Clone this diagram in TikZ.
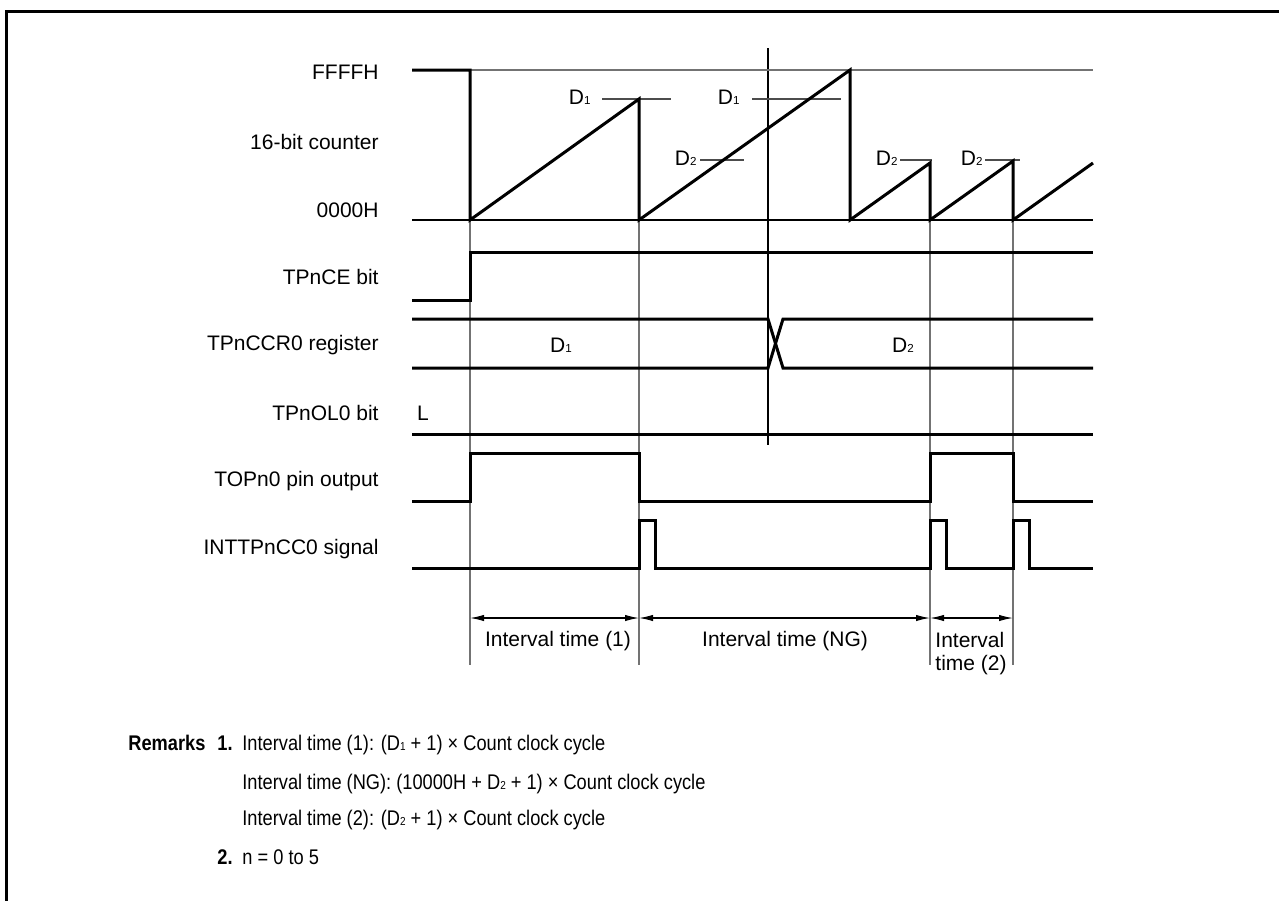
\documentclass[tikz,border=0pt]{standalone}
\usepackage{fontspec}
\setmainfont{Liberation Sans}
\newfontfamily\narrowsf[FakeStretch=0.86]{Liberation Sans}
\usepackage{tikz}
\usetikzlibrary{arrows.meta,positioning}
\newcommand{\Dlow}[1]{D{\fontsize{5.8}{6}\selectfont #1}}

\begin{document}
\begin{tikzpicture}[x=0.5pt, y=-0.5pt,
    sig/.style={line width=1.5pt, line join=miter},
    base/.style={line width=0.6pt},
    guide/.style={line width=0.6pt, draw=black!55},
    level/.style={line width=0.6pt, draw=black!70},
    lbl/.style={anchor=east, inner sep=0pt, font=\fontsize{10.5}{12}\selectfont},
    val/.style={inner sep=0pt, font=\fontsize{10.5}{12}\selectfont},
    span/.style={line width=0.6pt, {Latex[length=7pt,width=3.2pt]}-{Latex[length=7pt,width=3.2pt]}},
    remark/.style={anchor=base west, inner sep=0pt, font=\narrowsf\fontsize{10.6}{12}\selectfont}
]
    \useasboundingbox (0,0) rectangle (1279,901);
    % frame
    \draw[line width=1.5pt] (1279,11) -- (6,11) -- (6,901);

    % signal names
    \node[lbl] (lffff) at (379,72) {FFFFH};
    \node[lbl] (lcnt) at (379,142) {16-bit counter};
    \node[lbl] (lzero) at (379,210) {0000H};
    \node[lbl] (lce) at (379,277) {TPnCE bit};
    \node[lbl] (lccr) at (379,345) {TPnCCR0 register};
    \node[lbl] (lol) at (379,413) {TPnOL0 bit};
    \node[lbl] (ltop) at (379,481) {TOPn0 pin output};
    \node[lbl] (lint) at (379,549) {INTTPnCC0 signal};

    % timing guides
    \foreach \t in {470,639,930,1013}
        \draw[guide] (\t,220) -- (\t,665);
    \draw[base] (768,48) -- (768,445);

    % 16-bit counter
    \draw[guide] (470,70) -- (1093,70);
    \draw[base] (412,220) -- (1093,220);
    \draw[level] (602,99) -- (671,99);
    \draw[level] (752,99) -- (841,99);
    \draw[level] (700,160) -- (744,160);
    \draw[level] (900,160) -- (932,160);
    \draw[level] (985,160) -- (1020,160);
    \node[val, anchor=east] (d1a) at (591,97) {\Dlow{1}};
    \node[val, anchor=east] (d1b) at (740,97) {\Dlow{1}};
    \node[val, anchor=east] (d2a) at (697,158) {\Dlow{2}};
    \node[val, anchor=east] (d2b) at (898,158) {\Dlow{2}};
    \node[val, anchor=east] (d2c) at (983,158) {\Dlow{2}};
    \draw[sig] (412,70) -- (470,70) -- (470,220) -- (639,99) -- (639,220)
        -- (850,70) -- (850,220) -- (930,163) -- (930,220) -- (1013,161)
        -- (1013,220) -- (1093,163);

    % TPnCE bit
    \draw[sig] (412,300) -- (470,300) -- (470,252) -- (1093,252);

    % TPnCCR0 register
    \draw[sig] (412,319) -- (768,319) -- (783,368) -- (1093,368);
    \draw[sig] (412,368) -- (768,368) -- (783,319) -- (1093,319);
    \node[val] (ccr1) at (561,345) {\Dlow{1}};
    \node[val] (ccr2) at (903,345) {\Dlow{2}};

    % TPnOL0 bit
    \node[val] (oll) at (423,413) {L};
    \draw[sig] (412,434) -- (1093,434);

    % TOPn0 pin output
    \draw[sig] (412,501) -- (470,501) -- (470,453) -- (639,453) -- (639,501)
        -- (930,501) -- (930,453) -- (1013,453) -- (1013,501) -- (1093,501);

    % INTTPnCC0 signal
    \draw[sig] (412,568) -- (639,568) -- (639,520) -- (655,520) -- (655,568)
        -- (930,568) -- (930,520) -- (946,520) -- (946,568)
        -- (1013,568) -- (1013,520) -- (1029,520) -- (1029,568) -- (1093,568);

    % interval times
    \coordinate (i0) at (470,618);
    \coordinate (i1) at (639,618);
    \coordinate (i2) at (930,618);
    \coordinate (i3) at (1013,618);
    \draw[span] (i0) -- (i1);
    \draw[span] (i1) -- (i2);
    \draw[span] (i2) -- (i3);
    \node[val] (t1) at (558,641) {Interval time (1)};
    \node[val] (tng) at (785,641) {Interval time (NG)};
    \node[val, anchor=north west, align=left, font=\fontsize{10.5}{11.5}\selectfont] (t2) at (935,632) {Interval\\time (2)};

    % remarks
    \node[remark] (rm) at (128,750) {\bfseries Remarks};
    \node[remark] (r1) at (217,750) {\bfseries 1.};
    \node[remark] (r1a) at (242,750) {Interval time (1): (\Dlow{1} + 1) × Count clock cycle};
    \node[remark] (r1b) at (242,789) {Interval time (NG): (10000H + \Dlow{2} + 1) × Count clock cycle};
    \node[remark] (r1c) at (242,825) {Interval time (2): (\Dlow{2} + 1) × Count clock cycle};
    \node[remark] (r2) at (217,864) {\bfseries 2.};
    \node[remark] (r2a) at (242,864) {n = 0 to 5};
\end{tikzpicture}
\end{document}
